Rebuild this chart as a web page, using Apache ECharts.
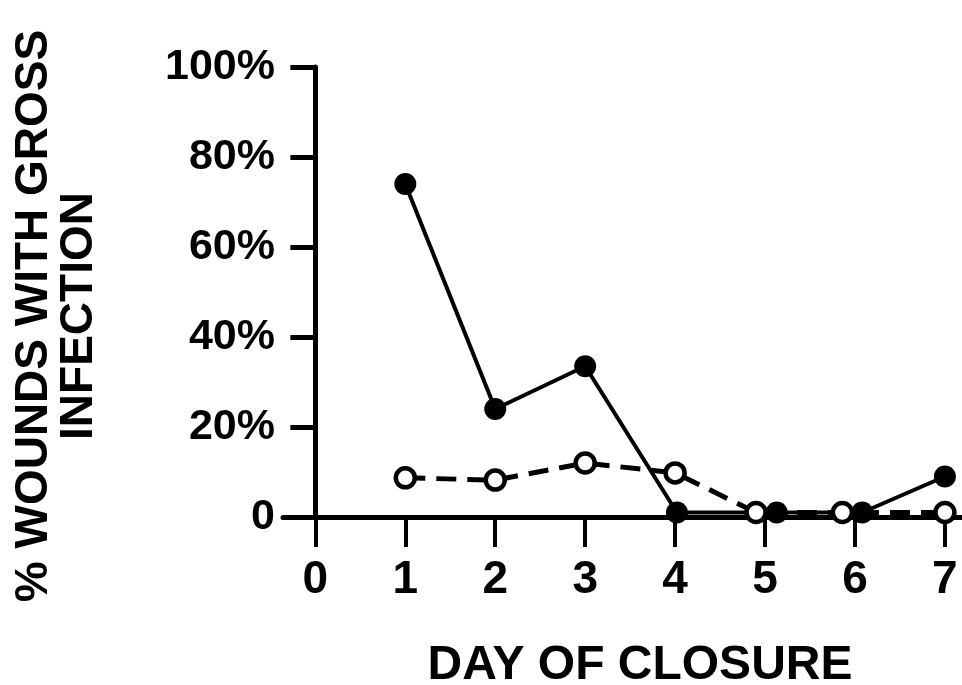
<!DOCTYPE html>
<html>
<head>
<meta charset="utf-8">
<title>Wound infection by day of closure</title>
<script src="https://cdn.jsdelivr.net/npm/echarts@6/dist/echarts.min.js"></script>
<style>
  html, body { margin: 0; padding: 0; background: #fff; }
  #chart { width: 962px; height: 685px; }
</style>
</head>
<body>
<div id="chart"></div>
<script>
// day ticks and percent ticks
var dayTicks = [0, 1, 2, 3, 4, 5, 6, 7];
var pctTicks = [0, 20, 40, 60, 80, 100];

// filled circles (solid line) - [day, %]
var filledDays = [1, 2, 3, 4.02, 5.13, 6.08, 7];
var filledPct = [74, 24, 33.5, 1, 1, 1, 9];

// open circles (dashed line) - [day, %]
var openDays = [1, 2, 3, 4, 4.9, 5.86, 7];
var openPct = [8.7, 8.2, 12, 9.8, 1, 1, 1];

function pairs(xs, ys) {
  return xs.map(function (x, i) { return [x, ys[i]]; });
}

var chart = echarts.init(document.getElementById('chart'));

var option = {
  backgroundColor: '#fff',
  animation: false,
  grid: {
    left: 283,
    right: 0,
    top: 67,
    bottom: 168,
    containLabel: false
  },
  xAxis: {
    type: 'value',
    min: -0.36,
    max: 7.19,
    splitLine: { show: false },
    axisLine: { show: true, lineStyle: { color: '#000', width: 5 } },
    axisTick: {
      show: true,
      inside: false,
      length: 30,
      customValues: dayTicks,
      lineStyle: { color: '#000', width: 4 }
    },
    axisLabel: {
      customValues: dayTicks,
      margin: 40,
      color: '#000',
      fontFamily: 'Liberation Sans',
      fontWeight: 'bold',
      fontSize: 46
    }
  },
  yAxis: {
    type: 'value',
    min: pctTicks[0],
    max: pctTicks[pctTicks.length - 1],
    interval: 20,
    splitLine: { show: false },
    axisLine: { show: true, onZero: true, lineStyle: { color: '#000', width: 5 } },
    axisTick: {
      show: true,
      length: 25,
      lineStyle: { color: '#000', width: 5 }
    },
    axisLabel: {
      margin: 8,
      color: '#000',
      fontFamily: 'Liberation Sans',
      fontWeight: 'bold',
      fontSize: 43,
      formatter: function (v) {
        return v === 0 ? '0' : v + '%';
      }
    }
  },
  graphic: [{
    type: 'text',
    x: 57,
    y: 316,
    rotation: Math.PI / 2,
    style: {
      text: '% WOUNDS WITH GROSS\nINFECTION',
      fill: '#000',
      font: 'bold 46px "Liberation Sans"',
      align: 'center',
      verticalAlign: 'middle',
      lineHeight: 45
    }
  }, {
    type: 'text',
    x: 640,
    y: 666,
    style: {
      text: 'DAY OF CLOSURE',
      fill: '#000',
      font: 'bold 48px "Liberation Sans"',
      align: 'center',
      verticalAlign: 'middle'
    }
  }],
  series: [{
    name: 'filled',
    type: 'line',
    data: pairs(filledDays, filledPct),
    symbol: 'circle',
    symbolSize: 22,
    showAllSymbol: true,
    itemStyle: { color: '#000', borderColor: '#000', borderWidth: 0 },
    lineStyle: { color: '#000', width: 4, type: 'solid' },
    z: 3
  }, {
    name: 'open',
    type: 'line',
    data: pairs(openDays, openPct),
    symbol: 'circle',
    symbolSize: 19,
    showAllSymbol: true,
    itemStyle: { color: '#fff', borderColor: '#000', borderWidth: 4.5 },
    lineStyle: { color: '#000', width: 5, type: [20, 11] },
    z: 4
  }]
};

chart.setOption(option);
</script>
</body>
</html>
